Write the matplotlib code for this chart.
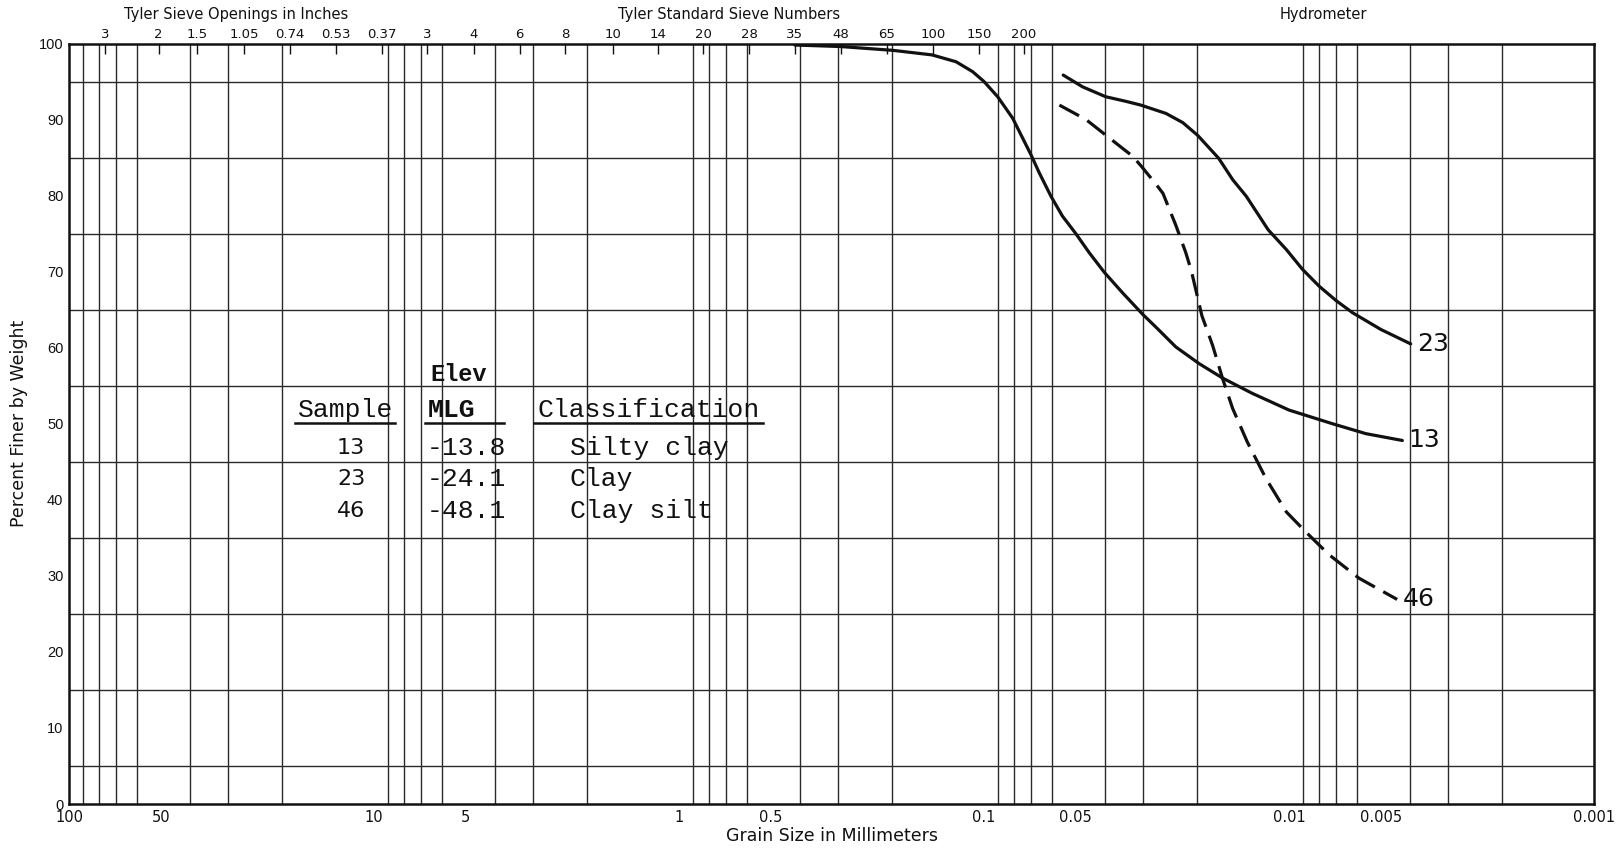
"""Grain size distribution chart: samples 13, 23, 46 (sieve + hydrometer)."""
import numpy as np
import matplotlib; matplotlib.use("Agg"); import matplotlib.pyplot as plt
from matplotlib.ticker import LogLocator, NullFormatter, NullLocator
from matplotlib.lines import Line2D

# ---- data: grain size [mm], percent finer by weight ----
d13 = [0.417, 0.295, 0.199, 0.148, 0.1235, 0.109, 0.100, 0.0902, 0.0806, 0.0702,
       0.0659, 0.0603, 0.0553, 0.050, 0.0452, 0.0403, 0.0351, 0.0302, 0.0273,
       0.0235, 0.0197, 0.0165, 0.0132, 0.0100, 0.0072, 0.0056, 0.00425]
p13 = [99.8, 99.6, 99.1, 98.5, 97.6, 96.3, 95.0, 93.0, 90.2, 85.4,
       83.0, 79.9, 77.3, 75.0, 72.5, 69.9, 67.2, 64.4, 62.7,
       60.1, 57.9, 56.0, 54.0, 51.8, 50.0, 48.7, 47.8]
d23 = [0.0550, 0.0475, 0.0399, 0.0343, 0.0306, 0.0253, 0.0223, 0.0199, 0.0170,
       0.0153, 0.0138, 0.0117, 0.0102, 0.00903, 0.00797, 0.00701, 0.00619,
       0.00500, 0.00399]
p23 = [95.85, 94.3, 93.0, 92.4, 91.9, 90.8, 89.6, 87.9, 84.9,
       82.1, 79.9, 75.5, 72.9, 70.3, 68.1, 66.2, 64.6,
       62.4, 60.5]
d46 = [0.0566, 0.0463, 0.0351, 0.0326, 0.0304, 0.0273, 0.0259, 0.0235, 0.0218,
       0.0209, 0.0193, 0.0178, 0.0165, 0.0153, 0.0137, 0.0119, 0.0102, 0.00882,
       0.00740, 0.00590, 0.00442]
p46 = [91.9, 90.0, 86.2, 85.2, 83.8, 81.5, 80.3, 76.1, 72.5,
       70.1, 64.2, 60.3, 55.9, 52.0, 47.6, 42.8, 38.4, 35.8,
       32.8, 29.7, 26.9]

mm_ticks = [100, 50, 10, 5, 1, 0.5, 0.1, 0.05, 0.01, 0.005, 0.001]
mm_labels = ["100", "50", "10", "5", "1", "0.5", "0.1", "0.05", "0.01", "0.005", "0.001"]
inch_labels = ["3", "2", "1.5", "1.05", "0.74", "0.53", "0.37"]
inch_mm = [76.2, 50.8, 38.1, 26.67, 18.85, 13.33, 9.42]
mesh_labels = ["3", "4", "6", "8", "10", "14", "20", "28", "35", "48", "65", "100", "150", "200"]
mesh_mm = [6.68, 4.699, 3.327, 2.362, 1.651, 1.168, 0.833, 0.589, 0.417, 0.295,
           0.208, 0.147, 0.104, 0.074]

samples = ["13", "23", "46"]
elev = ["-13.8", "-24.1", "-48.1"]
classes = ["Silty clay", "Clay", "Clay silt"]

W, H = 1623, 850
SANS = ["Liberation Sans", "DejaVu Sans"]
WIDE = ["DejaVu Sans"]
MONO = ["Liberation Mono", "DejaVu Sans Mono"]
HAND = ["DejaVu Sans"]
INK = "#111"
plt.rcParams["font.family"] = SANS

fig = plt.figure(figsize=(W / 100, H / 100), dpi=100)
ax = fig.add_axes([69 / W, 46 / H, 1525 / W, 760.5 / H])
ax.set_xscale("log")
ax.set_xlim(100, 0.001); ax.set_ylim(0, 100)
ax.set_xticks(mm_ticks, mm_labels)
ax.xaxis.set_minor_locator(LogLocator(base=10, subs=np.arange(1, 10), numticks=60))
ax.xaxis.set_minor_formatter(NullFormatter())
ax.set_yticks(np.arange(0, 101, 10))
ax.set_yticks(np.arange(0, 101, 5), minor=True)
ax.tick_params(which="both", length=0, colors=INK)
ax.tick_params(axis="y", pad=4, labelsize=10.5)
ax.tick_params(axis="x", pad=4, labelsize=10.5)
for t in ax.get_xticklabels():
    t.set_family(WIDE)
ax.grid(which="minor", axis="both", color="#2a2a2a", lw=1.0)
ax.set_axisbelow(True)
for s in ax.spines.values():
    s.set_linewidth(1.8); s.set_color(INK)

ax.set_ylabel("Percent Finer by Weight", fontsize=12.5, family=WIDE, color=INK)
ax.yaxis.set_label_coords(-0.027, 0.5)
ax.set_xlabel("Grain Size in Millimeters", fontsize=12.5, family=WIDE, color=INK)
ax.xaxis.set_label_coords(0.5, -0.03)

# top: Tyler sieve openings / numbers
ax2 = ax.twiny()
ax2.set_xscale("log"); ax2.set_xlim(100, 0.001)
ax2.set_xticks(inch_mm + mesh_mm, inch_labels + mesh_labels)
ax2.xaxis.set_minor_locator(NullLocator())
ax2.tick_params(axis="x", direction="in", length=7, width=1.0, pad=2, labelsize=9.5, colors=INK)
for t in ax2.get_xticklabels():
    t.set_family(WIDE)
for s in ax2.spines.values():
    s.set_visible(False)
for txt, xc in [("Tyler Sieve Openings in Inches", 236), ("Tyler Standard Sieve Numbers", 729),
                ("Hydrometer", 1323)]:
    fig.text(xc / W, 1 - 15 / H, txt, ha="center", va="center", fontsize=10.5,
             family=WIDE, color=INK)

# curves
ax.plot(d13, p13, color=INK, lw=2.3, solid_capstyle="round", solid_joinstyle="round")
ax.plot(d23, p23, color=INK, lw=2.3, solid_capstyle="round", solid_joinstyle="round")
ax.plot(d46, p46, color=INK, lw=2.3, dashes=(7, 3))
for d, p, lab in [(d23, p23, "23"), (d13, p13, "13"), (d46, p46, "46")]:
    ax.annotate(lab, (d[-1], p[-1]), xytext=(6, 0), textcoords="offset pixels",
                ha="left", va="center", fontsize=18, family=HAND, color=INK)

# typed legend table (positions in axes fraction)
ty = dict(transform=ax.transAxes, family=MONO, fontsize=19, color=INK, va="center")
ax.text(0.2367, 0.565, "Elev", fontweight="bold", **{**ty, "fontsize": 17})
hdr = [ax.text(0.1502, 0.518, "Sample", **ty),
       ax.text(0.2354, 0.518, "MLG", fontweight="bold", **ty),
       ax.text(0.3069, 0.518, "Classification", **ty)]
rows_y = [0.468, 0.4274, 0.3853]
for i, y in enumerate(rows_y):
    ax.text(0.185, y, samples[i], transform=ax.transAxes, family=HAND, fontsize=16,
            ha="center", va="center", color=INK)
    ax.text(0.2348, y, elev[i], **ty)
    ax.text(0.3285, y, classes[i], **ty)

fig.canvas.draw()
bbs = [t.get_window_extent() for t in hdr]
uy = min(b.y0 for b in bbs) - 1
for b, extra in zip(bbs, [2, 28, 4]):
    fig.add_artist(Line2D([b.x0 - 3, b.x1 + extra], [uy, uy], transform=None,
                          color=INK, lw=1.8))

fig.savefig("out.png", dpi=100)
